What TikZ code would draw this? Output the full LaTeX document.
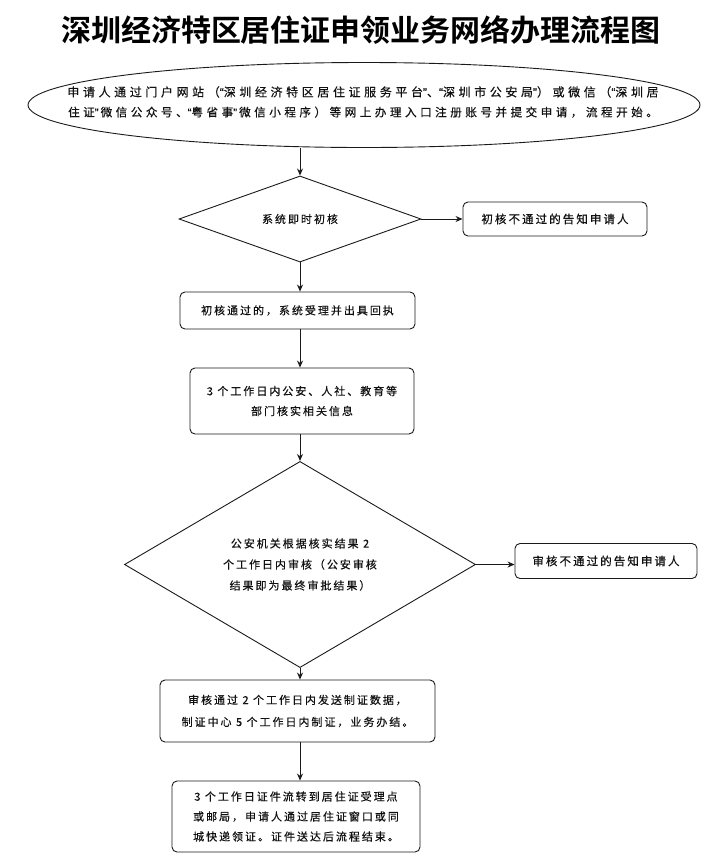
\documentclass[tikz,border=0pt]{standalone}
\usepackage{fontspec}
\setmainfont{Noto Sans CJK SC}
\newfontfamily\titlefont{Noto Sans CJK SC Bold}
\newfontfamily\bodyfont{Noto Sans CJK SC}[LetterSpace=18,FakeBold=0.4]
\newfontfamily\ellfont{Noto Sans CJK SC}[LetterSpace=30,FakeBold=0.4]
\newfontfamily\quotefont{Liberation Sans}[FakeBold=0.4]
\newcommand{\qq}[1]{{\quotefont #1}}
\usetikzlibrary{shapes.geometric,arrows.meta}
\definecolor{linecol}{HTML}{1A1A1A}
\definecolor{txtcol}{HTML}{111111}
\tikzset{
  every node/.style={text=txtcol},
  bodytxt/.style={font=\bodyfont\fontsize{11}{20}\selectfont, align=center, inner sep=0pt},
  boxnode/.style={draw=linecol, line width=0.9pt, rounded corners=5pt, bodytxt},
  decnode/.style={draw=linecol, line width=0.9pt, diamond, bodytxt},
  arr/.style={draw=linecol, line width=0.9pt, -{Stealth[length=7pt,width=6pt]}},
}
\begin{document}
\begin{tikzpicture}[x=1pt,y=-1pt]
\useasboundingbox (0,0) rectangle (724,860);
\node[font=\titlefont\fontsize{30}{30}\selectfont, text=black] (title) at (361,30) {深圳经济特区居住证申领业务网络办理流程图};

\node[draw=linecol, line width=0.9pt, ellipse, minimum width=672pt, minimum height=85pt, inner sep=0pt] (start) at (364,105) {};
\node[bodytxt, font=\ellfont\fontsize{11.9}{20}\selectfont] (starttxt) at (363,102) {{\fontsize{12}{20}\selectfont 申请人通过门户网站（\qq{“}深圳经济特区居住证服务平台\qq{”}、\qq{“}深圳市公安局\qq{”}）或微信（\qq{“}深圳居}\\{\fontsize{11.6}{20}\selectfont 住证\qq{”}\hspace{2pt}微信公众号、\qq{“}粤省事\qq{”}\hspace{2pt}微信小程序）等网上办理入口注册账号并提交申请，流程开始。}};

\coordinate (col) at (300,0);

\node[decnode, minimum width=242pt, minimum height=65pt] (d1) at (300,219) {系统即时初核};
\node[boxnode, minimum width=184pt, minimum height=34pt, font=\bodyfont\fontsize{11.5}{20}\selectfont] (n1) at (555,219) {初核不通过的告知申请人};

\node[boxnode, minimum width=235pt, minimum height=37pt] (b2) at (297.5,310.5) {初核通过的，系统受理并出具回执};
\node[boxnode, minimum width=224pt, minimum height=66pt] (b3) at (302,401) {3 个工作日内公安、人社、教育等\\部门核实相关信息};

\node[decnode, minimum width=351pt, minimum height=145pt, font=\bodyfont\fontsize{11}{21}\selectfont] (d2) at (300,564.5) {公安机关根据核实结果 2\\个工作日内审核（公安审核\\结果即为最终审批结果）};
\node[boxnode, minimum width=182pt, minimum height=35pt, font=\bodyfont\fontsize{11.5}{20}\selectfont] (n2) at (606,561) {审核不通过的告知申请人};

\node[boxnode, minimum width=275pt, minimum height=62pt, font=\bodyfont\fontsize{11}{22}\selectfont] (b4) at (297.5,711) {审核通过 2 个工作日内发送制证数据，\\制证中心 5 个工作日内制证，业务办结。};
\node[boxnode, minimum width=248pt, minimum height=71pt] (b5) at (296,816.5) {3 个工作日证件流转到居住证受理点\\或邮局，申请人通过居住证窗口或同\\城快递领证。证件送达后流程结束。};

\draw[arr] (col |- start.south) -- (d1.north);
\draw[arr] (d1.east) -- (d1.east -| n1.west);
\draw[arr] (d1.south) -- (col |- b2.north);
\draw[arr] (col |- b2.south) -- (col |- b3.north);
\draw[arr] (col |- b3.south) -- (d2.north);
\draw[arr] (d2.east) -- (d2.east -| n2.west);
\draw[arr] (d2.south) -- (col |- b4.north);
\draw[arr] (col |- b4.south) -- (col |- b5.north);
\end{tikzpicture}
\end{document}
